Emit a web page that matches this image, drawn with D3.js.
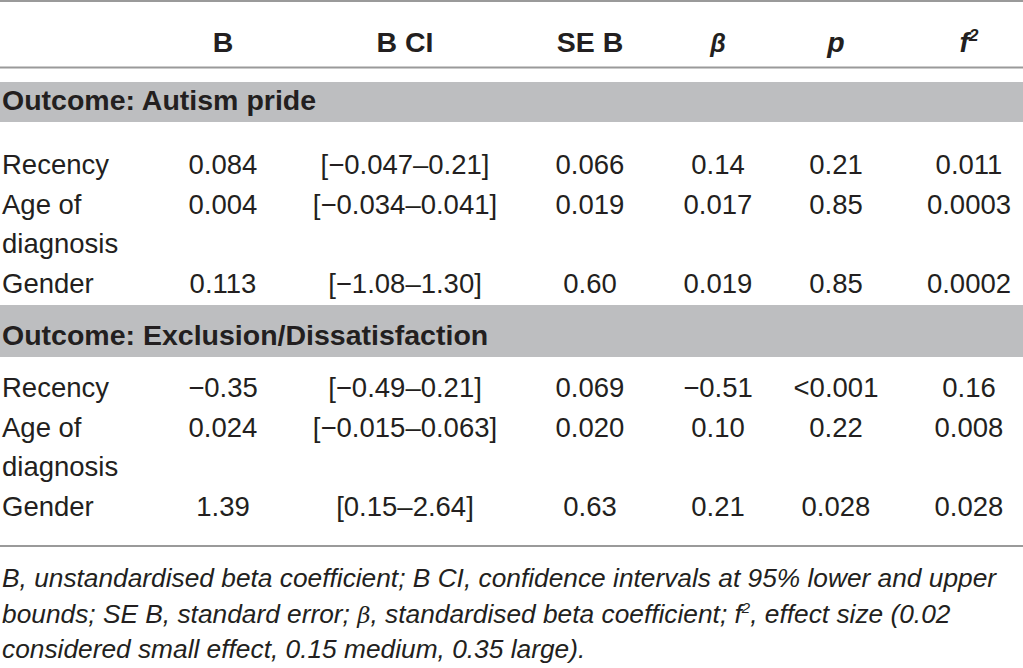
<!DOCTYPE html>
<html>
<head>
<meta charset="utf-8">
<script src="https://cdn.jsdelivr.net/npm/d3@7"></script>
<style>
  body { margin: 0; background: #fff; }
  svg text { font-family: "Liberation Sans", Arial, sans-serif; fill: #231f20; }
</style>
</head>
<body>
<svg id="tbl" width="1023" height="668"></svg>
<script>
// table content
let columns = ["B", "B CI", "SE B", "β", "p", "f2"];
let sections = ["Outcome: Autism pride", "Outcome: Exclusion/Dissatisfaction"];
let predictors = [["Recency"], ["Age of", "diagnosis"], ["Gender"]];

let prideB    = ["0.084", "0.004", "0.113"];
let prideCI   = ["[\u22120.047\u20130.21]", "[\u22120.034\u20130.041]", "[\u22121.08\u20131.30]"];
let prideSE   = ["0.066", "0.019", "0.60"];
let prideBeta = ["0.14", "0.017", "0.019"];
let prideP    = ["0.21", "0.85", "0.85"];
let prideF2   = ["0.011", "0.0003", "0.0002"];

let exclB    = ["\u22120.35", "0.024", "1.39"];
let exclCI   = ["[\u22120.49\u20130.21]", "[\u22120.015\u20130.063]", "[0.15\u20132.64]"];
let exclSE   = ["0.069", "0.020", "0.63"];
let exclBeta = ["\u22120.51", "0.10", "0.21"];
let exclP    = ["<0.001", "0.22", "0.028"];
let exclF2   = ["0.16", "0.008", "0.028"];

let sectionData = [
  [prideB, prideCI, prideSE, prideBeta, prideP, prideF2],
  [exclB, exclCI, exclSE, exclBeta, exclP, exclF2]
];

let svg = d3.select("#tbl");
let width = 1023;
let fontSize = 27.5;
let boldSize = 28.5;
let lineH = 39.5;

// column centres
let x = d3.scaleOrdinal()
          .domain(columns)
          .range([223, 405, 590, 718, 836, 969]);

function rule(y) {
  svg.append("line").attr("x1", 0).attr("x2", width).attr("y1", y).attr("y2", y)
     .attr("stroke", "#9a9a9a").attr("stroke-width", 2);
}

rule(1);
rule(67.5);

// header
let head = svg.append("g").attr("class", "head");
columns.forEach(function(c) {
  let t = head.append("text")
      .attr("x", x(c)).attr("y", 52)
      .attr("text-anchor", "middle")
      .attr("font-size", boldSize)
      .attr("font-weight", "bold");
  if (c === "β") {
    t.attr("font-style", "italic").attr("font-family", "DejaVu Serif").attr("font-size", 25).text(c);
  } else if (c === "p") {
    t.attr("font-style", "italic").text(c);
  } else if (c === "f2") {
    t.attr("font-style", "italic").text("f");
    t.append("tspan").attr("font-size", 17).attr("dy", -11).text("2");
  } else {
    t.text(c);
  }
});

// sections: band top, band height, title baseline, first row baseline
let bandTop = [82, 305];
let bandH = [40, 52];
let titleY = [110, 345];
let firstRowY = [174, 397];

sections.forEach(function(s, si) {
  svg.append("rect")
     .attr("x", 0).attr("y", bandTop[si])
     .attr("width", width).attr("height", bandH[si])
     .attr("fill", "#bdbec0");
  svg.append("text")
     .attr("x", 2).attr("y", titleY[si])
     .attr("font-size", boldSize)
     .attr("font-weight", "bold")
     .text(s);

  let lineIdx = 0;
  predictors.forEach(function(pr, pi) {
    let yy = firstRowY[si] + lineIdx * lineH;
    pr.forEach(function(part, k) {
      svg.append("text")
         .attr("x", 2).attr("y", yy + k * lineH)
         .attr("font-size", fontSize)
         .text(part);
    });
    sectionData[si].forEach(function(col, ci) {
      svg.append("text")
         .attr("x", x(columns[ci])).attr("y", yy)
         .attr("text-anchor", "middle")
         .attr("font-size", fontSize)
         .text(col[pi]);
    });
    lineIdx += pr.length;
  });
});

rule(546);

// footnote
let note = svg.append("g")
   .attr("font-size", 26.3)
   .attr("font-style", "italic");

note.append("text").attr("x", 2).attr("y", 587)
  .text("B, unstandardised beta coefficient; B CI, confidence intervals at 95% lower and upper");
let n2 = note.append("text").attr("x", 2).attr("y", 623);
n2.append("tspan").text("bounds; SE B, standard error; ");
n2.append("tspan").attr("font-family", "DejaVu Serif").attr("font-size", 23).text("β");
n2.append("tspan").text(", standardised beta coefficient; f");
n2.append("tspan").attr("font-size", 15).attr("dy", -10).text("2");
n2.append("tspan").attr("dy", 10).text(", effect size (0.02");
note.append("text").attr("x", 2).attr("y", 658)
  .text("considered small effect, 0.15 medium, 0.35 large).");
</script>
</body>
</html>
